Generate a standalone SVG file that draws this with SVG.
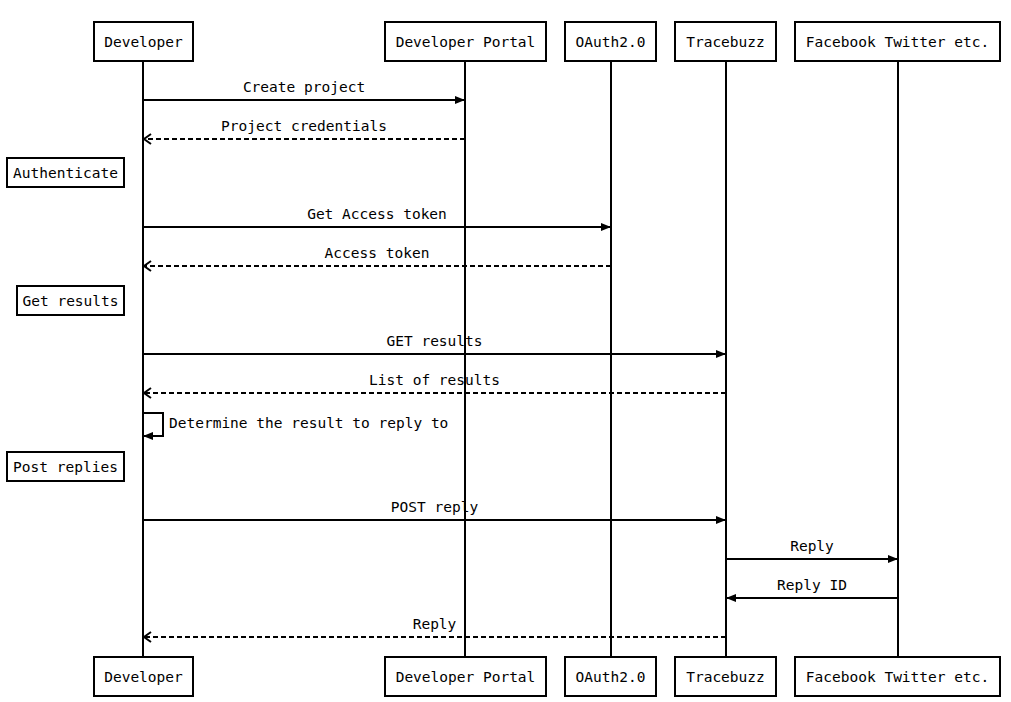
<svg xmlns="http://www.w3.org/2000/svg" width="1011" height="702" viewBox="0 0 1011 702">
<style>
text{font-family:"DejaVu Sans Mono","Liberation Mono",monospace;font-size:14.5px;fill:#000}
.box{fill:#fff;stroke:#000;stroke-width:2}
.life{stroke:#000;stroke-width:2}
.msg{stroke:#000;stroke-width:2;fill:none}
.dash{stroke-dasharray:5 3}
.c{text-anchor:middle}
</style>
<defs>
<marker id="fill" markerUnits="userSpaceOnUse" markerWidth="12" markerHeight="10" refX="10" refY="5" orient="auto">
<path d="M0,1 L10,5 L0,9 z" fill="#000"/>
</marker>
<marker id="open" markerUnits="userSpaceOnUse" markerWidth="12" markerHeight="12" refX="9" refY="6" orient="auto">
<path d="M2,1 L9,6 L2,11" fill="none" stroke="#000" stroke-width="2"/>
</marker>
</defs>
<g id="lifelines">
<line class="life" x1="143" y1="61" x2="143" y2="657"/>
<line class="life" x1="465" y1="61" x2="465" y2="657"/>
<line class="life" x1="611" y1="61" x2="611" y2="657"/>
<line class="life" x1="726" y1="61" x2="726" y2="657"/>
<line class="life" x1="898" y1="61" x2="898" y2="657"/>
</g>
<g id="developer">
<rect class="box" x="94" y="22" width="99" height="39"/><text class="c" x="143.5" y="47">Developer</text>
<rect class="box" x="94" y="657" width="99" height="39"/><text class="c" x="143.5" y="682">Developer</text>
</g>
<g id="portal">
<rect class="box" x="385" y="22" width="161" height="39"/><text class="c" x="465.5" y="47">Developer Portal</text>
<rect class="box" x="385" y="657" width="161" height="39"/><text class="c" x="465.5" y="682">Developer Portal</text>
</g>
<g id="oauth">
<rect class="box" x="565" y="22" width="91" height="39"/><text class="c" x="610.5" y="47">OAuth2.0</text>
<rect class="box" x="565" y="657" width="91" height="39"/><text class="c" x="610.5" y="682">OAuth2.0</text>
</g>
<g id="tracebuzz">
<rect class="box" x="675" y="22" width="101" height="39"/><text class="c" x="725.5" y="47">Tracebuzz</text>
<rect class="box" x="675" y="657" width="101" height="39"/><text class="c" x="725.5" y="682">Tracebuzz</text>
</g>
<g id="social">
<rect class="box" x="795" y="22" width="205" height="39"/><text class="c" x="897.5" y="47">Facebook Twitter etc.</text>
<rect class="box" x="795" y="657" width="205" height="39"/><text class="c" x="897.5" y="682">Facebook Twitter etc.</text>
</g>
<g id="note-authenticate">
<rect class="box" x="7" y="158" width="117" height="29"/><text class="c" x="65.5" y="178">Authenticate</text>
</g>
<g id="note-getresults">
<rect class="box" x="17" y="286" width="107" height="29"/><text class="c" x="70.5" y="306">Get results</text>
</g>
<g id="note-postreplies">
<rect class="box" x="7" y="452" width="117" height="29"/><text class="c" x="65.5" y="472">Post replies</text>
</g>
<g id="connectors">
<line class="msg" x1="143" y1="100" x2="465" y2="100" marker-end="url(#fill)"/>
<text class="c" x="304" y="92">Create project</text>
<line class="msg dash" x1="465" y1="139" x2="144" y2="139" marker-end="url(#open)"/>
<text class="c" x="304" y="131">Project credentials</text>
<line class="msg" x1="143" y1="227" x2="611" y2="227" marker-end="url(#fill)"/>
<text class="c" x="377" y="219">Get Access token</text>
<line class="msg dash" x1="611" y1="266" x2="144" y2="266" marker-end="url(#open)"/>
<text class="c" x="377" y="258">Access token</text>
<line class="msg" x1="143" y1="354" x2="726" y2="354" marker-end="url(#fill)"/>
<text class="c" x="434.5" y="346">GET results</text>
<line class="msg dash" x1="726" y1="393" x2="144" y2="393" marker-end="url(#open)"/>
<text class="c" x="434.5" y="385">List of results</text>
<path class="msg" d="M143,413 H163 V436 H143" marker-end="url(#fill)"/>
<text x="169" y="428">Determine the result to reply to</text>
<line class="msg" x1="143" y1="520" x2="726" y2="520" marker-end="url(#fill)"/>
<text class="c" x="434.5" y="512">POST reply</text>
<line class="msg" x1="726" y1="559" x2="898" y2="559" marker-end="url(#fill)"/>
<text class="c" x="812" y="551">Reply</text>
<line class="msg" x1="898" y1="598" x2="726" y2="598" marker-end="url(#fill)"/>
<text class="c" x="812" y="590">Reply ID</text>
<line class="msg dash" x1="726" y1="637" x2="144" y2="637" marker-end="url(#open)"/>
<text class="c" x="434.5" y="629">Reply</text>
</g>
</svg>
